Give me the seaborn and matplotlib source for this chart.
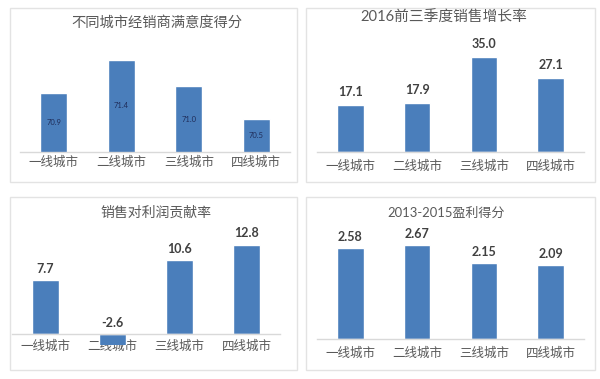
import numpy as np
import pandas as pd
import matplotlib
matplotlib.use("Agg")
import matplotlib.pyplot as plt
from matplotlib.patches import Rectangle
import seaborn as sns

# data
cities = ["一线城市", "二线城市", "三线城市", "四线城市"]
satisfaction = [70.9, 71.4, 71.0, 70.5]
growth_2016 = [17.1, 17.9, 35.0, 27.1]
profit_contrib = [7.7, -2.6, 10.6, 12.8]
profit_score = [2.58, 2.67, 2.15, 2.09]

titles = ["不同城市经销商满意度得分", "2016前三季度销售增长率",
          "销售对利润贡献率", "2013-2015盈利得分"]

BAR = "#4a7ebb"
GRID = "#d9d9d9"
TXT = "#595959"

sns.set_style("white")
plt.rcParams["font.family"] = ["Lato", "Noto Sans CJK SC", "DejaVu Sans"]

W, H = 600, 379
fig = plt.figure(figsize=(6, 3.79), dpi=100)


def px_axes(left, right, top, bottom):
    # pixel box -> figure fraction axes
    return fig.add_axes([left / W, (H - bottom) / H, (right - left) / W, (bottom - top) / H])


def panel_box(x0, y0, x1, y1):
    fig.add_artist(Rectangle((x0 / W, (H - y1) / H), (x1 - x0) / W, (y1 - y0) / H,
                             transform=fig.transFigure, fill=False,
                             edgecolor="#e3e3e3", linewidth=1))


def style_axis(ax, pad=6):
    for s in ["top", "right", "left"]:
        ax.spines[s].set_visible(False)
    ax.spines["bottom"].set_color(GRID)
    ax.spines["bottom"].set_linewidth(1)
    ax.set_yticks([])
    ax.set_xlabel("")
    ax.set_ylabel("")
    ax.set_xlim(-0.5, 3.5)
    ax.tick_params(axis="x", which="major", length=0, pad=pad, labelsize=9, labelcolor=TXT)
    for t in ax.get_xticklabels():
        t.set_family(["Noto Sans CJK SC"])


def label_top(ax, values, fmt, off=8):
    for i, v in enumerate(values):
        ax.annotate(fmt.format(v), (i, max(v, 0)), xytext=(0, off),
                    textcoords="offset points", ha="center", va="center",
                    fontsize=9, fontweight="bold", color="#404040")


panel_box(10, 8, 297, 182)
panel_box(306, 8, 595, 182)
panel_box(10, 197, 297, 370)
panel_box(306, 197, 595, 370)

# panel 1
ax1 = px_axes(20, 290, 40, 152)
sns.barplot(x=cities, y=satisfaction, color=BAR, width=0.4, saturation=1, ax=ax1)
ax1.set_ylim(70, 71.7)
style_axis(ax1, pad=3)
ax1.set_xticks([-0.5, 0.5, 1.5, 2.5, 3.5], minor=True)
ax1.tick_params(axis="x", which="minor", length=4, width=1, color="#bfbfbf", direction="out")
y0 = ax1.get_ylim()[0]
for i, v in enumerate(satisfaction):
    ax1.text(i, (v + y0) / 2, f"{v:.1f}", ha="center", va="center",
             fontsize=5.5, color="#1f2d5a")
fig.text(157 / W, (H - 23) / H, titles[0], ha="center", va="center",
         fontsize=10.3, color=TXT, family=["Noto Sans CJK SC"])

# panel 2
ax2 = px_axes(317, 584, 35, 152)
sns.barplot(x=cities, y=growth_2016, color=BAR, width=0.4, saturation=1, ax=ax2)
ax2.set_ylim(0, 43)
style_axis(ax2)
label_top(ax2, growth_2016, "{:.1f}", off=9.5)
fig.text(444 / W, (H - 18) / H, titles[1], ha="center", va="center",
         fontsize=10.6, color=TXT)

# panel 3
ax3 = px_axes(12, 280, 225, 345)
sns.barplot(x=cities, y=profit_contrib, color=BAR, width=0.4, saturation=1, ax=ax3)
ax3.set_ylim(-1.6, 15.6)
style_axis(ax3, pad=4)
ax3.spines["bottom"].set_position(("data", 0))
label_top(ax3, profit_contrib, "{:.1f}", off=8)
fig.text(156 / W, (H - 213) / H, titles[2], ha="center", va="center",
         fontsize=10, color=TXT, family=["Noto Sans CJK SC"])

# panel 4
ax4 = px_axes(317, 584, 226, 339)
sns.barplot(x=cities, y=profit_score, color=BAR, width=0.4, saturation=1, ax=ax4)
ax4.set_ylim(0, 3.2)
style_axis(ax4)
label_top(ax4, profit_score, "{:.2f}", off=8)
fig.text(446 / W, (H - 213) / H, titles[3], ha="center", va="center",
         fontsize=9.4, color=TXT)

fig.savefig("out.png", dpi=100, facecolor="white")
